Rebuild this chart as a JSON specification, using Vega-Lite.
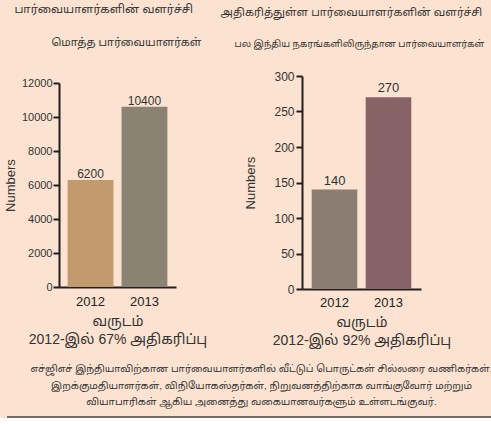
{
  "$schema": "https://vega.github.io/schema/vega-lite/v6.json",
  "background": "#fce3d1",
  "padding": {"left": 4, "top": 3, "right": 0, "bottom": 0},
  "config": {
    "view": {"stroke": null},
    "font": "Liberation Sans, Noto Sans Tamil",
    "axis": {"domainColor": "#231f20", "domainWidth": 2, "tickColor": "#231f20", "tickWidth": 2, "labelColor": "#333333", "titleColor": "#333333", "labelFont": "Liberation Sans", "titleFont": "Liberation Sans, Noto Sans Tamil", "titleFontWeight": "normal", "grid": false},
    "title": {"color": "#333333", "fontWeight": "normal", "font": "Liberation Sans, Noto Sans Tamil"}
  },
  "spacing": 17,
  "vconcat": [
    {
      "spacing": 13,
      "resolve": {"scale": {"color": "independent"}},
      "hconcat": [
        {
          "title": {"text": "பார்வையாளர்களின் வளர்ச்சி", "fontSize": 11.5, "offset": 22, "dx": 10},
          "vconcat": [
            {
              "width": 117,
              "height": 211,
              "title": {"text": "மொத்த பார்வையாளர்கள்", "fontSize": 11, "offset": 28, "frame": "group", "dx": 9},
              "data": {"values": [
                {"year": "2012", "value": 6300, "label": "6200"},
                {"year": "2013", "value": 10600, "label": "10400"}
              ]},
              "encoding": {
                "x": {"field": "year", "type": "nominal", "scale": {"paddingInner": 0.15, "paddingOuter": 0.16},
                  "axis": {"labelAngle": 0, "ticks": false, "labelPadding": 8, "labelFontSize": 13, "labelColor": "#222222",
                    "title": ["வருடம்", "2012-இல் 67% அதிகரிப்பு"], "titleFontSize": 14, "titleLineHeight": 18, "titlePadding": 6}},
                "y": {"field": "value", "type": "quantitative", "scale": {"domain": [0, 12000], "range": [211, 7]},
                  "axis": {"values": [0, 2000, 4000, 6000, 8000, 10000, 12000], "format": "d", "tickSize": 6, "labelPadding": 1, "labelFontSize": 11,
                    "title": "Numbers", "titleFontSize": 13, "titlePadding": 4}}
              },
              "layer": [
                {"mark": {"type": "bar"},
                 "encoding": {"color": {"field": "year", "type": "nominal", "scale": {"range": ["#c39a6e", "#8a8272"]}, "legend": null}}},
                {"mark": {"type": "text", "dy": -2, "baseline": "alphabetic", "fontSize": 12, "color": "#333333"},
                 "encoding": {"text": {"field": "label"}}}
              ]
            }
          ]
        },
        {
          "title": {"text": "அதிகரித்துள்ள பார்வையாளர்களின் வளர்ச்சி", "fontSize": 11, "offset": 22, "dx": -14},
          "vconcat": [
            {
              "width": 119,
              "height": 213,
              "title": {"text": "பல இந்திய நகரங்களிலிருந்தான பார்வையாளர்கள்", "fontSize": 9.2, "offset": 21, "frame": "group", "dx": -2},
              "data": {"values": [
                {"year": "2012", "value": 140, "label": "140"},
                {"year": "2013", "value": 270, "label": "270"}
              ]},
              "encoding": {
                "x": {"field": "year", "type": "nominal", "scale": {"paddingInner": 0.155, "paddingOuter": 0.18},
                  "axis": {"labelAngle": 0, "ticks": false, "labelPadding": 7, "labelFontSize": 13, "labelColor": "#222222",
                    "title": ["வருடம்", "2012-இல் 92% அதிகரிப்பு"], "titleFontSize": 14, "titleLineHeight": 18, "titlePadding": 6}},
                "y": {"field": "value", "type": "quantitative", "scale": {"domain": [0, 300]},
                  "axis": {"values": [0, 50, 100, 150, 200, 250, 300], "tickSize": 6, "labelPadding": 2, "labelFontSize": 12,
                    "title": "Numbers", "titleFontSize": 13, "titlePadding": 16}}
              },
              "layer": [
                {"mark": {"type": "bar"},
                 "encoding": {"color": {"field": "year", "type": "nominal", "scale": {"range": ["#8b7d71", "#876368"]}, "legend": null}}},
                {"mark": {"type": "text", "dy": -5, "baseline": "alphabetic", "fontSize": 13, "color": "#333333"},
                 "encoding": {"text": {"field": "label"}}}
              ]
            }
          ]
        }
      ]
    },
    {
      "width": 433,
      "height": 6,
      "title": {"text": ["எச்ஜிஎச் இந்தியாவிற்கான பார்வையாளர்களில் வீட்டுப் பொருட்கள் சில்லரை வணிகர்கள்,", "இறக்குமதியாளர்கள், விநியோகஸ்தர்கள், நிறுவனத்திற்காக வாங்குவோர் மற்றும்", "வியாபாரிகள் ஆகிய அனைத்து வகையானவர்களும் உள்ளடங்குவர்."], "fontSize": 9.9, "lineHeight": 16.5, "dx": -14, "offset": 4, "frame": "group"},
      "data": {"values": [{"a": 0}]},
      "mark": {"type": "rule", "color": "#444444", "strokeWidth": 1.5, "clip": false},
      "encoding": {
        "x": {"datum": -0.12, "type": "quantitative", "scale": {"domain": [0, 1]}, "axis": null},
        "x2": {"datum": 1},
        "y": {"datum": 0, "type": "quantitative", "scale": {"domain": [0, 1]}, "axis": null}
      }
    }
  ]
}
